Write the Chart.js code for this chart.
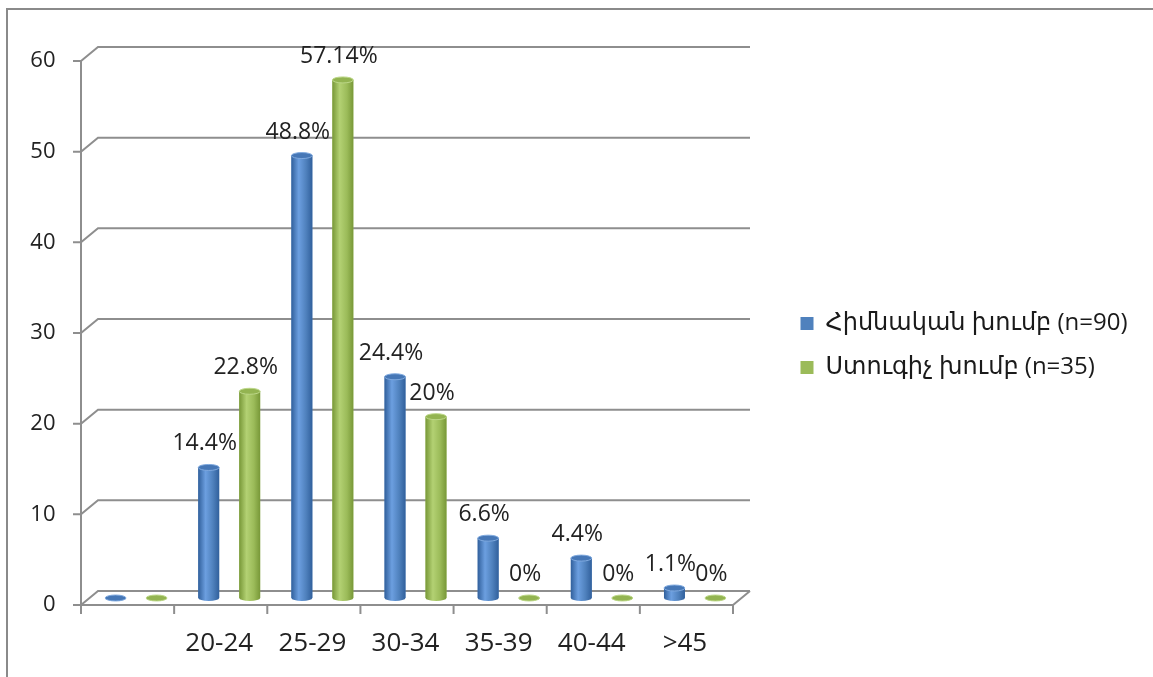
<!DOCTYPE html>
<html>
<head>
<meta charset="utf-8">
<script src="https://cdn.jsdelivr.net/npm/chart.js@4.4.1/dist/chart.umd.min.js"></script>
<style>
  html, body { margin: 0; padding: 0; background: #fff; overflow: hidden; }
  #wrap { position: relative; width: 1153px; height: 677px; }
  #frame { position: absolute; left: 6px; top: 8px; width: 1300px; height: 800px;
           border-top: 2px solid #8a8a8a; border-left: 2px solid #8a8a8a; }
  #chart { position: absolute; left: 0; top: 0; }
</style>
</head>
<body>
<div id="wrap"><div id="frame"></div><canvas id="chart" width="1153" height="677"></canvas></div>
<script>
var ageGroups = ['', '20-24', '25-29', '30-34', '35-39', '40-44', '>45'];
var mainGroup = [0, 14.4, 48.8, 24.4, 6.6, 4.4, 1.1];
var controlGroup = [0, 22.8, 57.14, 20, 0, 0, 0];
var seriesNames = ['Հիմնական խումբ (n=90)', 'Ստուգիչ խումբ (n=35)'];
var yTicks = [0, 10, 20, 30, 40, 50, 60];

var FONT = '"Open Sans", "DejaVu Sans", sans-serif';
var DEPTH_X = 8.5;   // half depth of the floor, horizontal
var DEPTH_Y = 7;     // half depth of the floor, vertical
var LINE = '#8e8e8e';
var LEGEND_W = 411.5;

var palettes = [
  { base: '#4f81bd', dark: '#31609c', light: '#6c9fe0', cap: '#4677b6', rim: '#7fa9de' },
  { base: '#9bbb59', dark: '#789838', light: '#b3d173', cap: '#93b451', rim: '#bcd788' }
];

function path(ctx, pts) {
  ctx.beginPath();
  ctx.moveTo(pts[0][0], pts[0][1]);
  for (var i = 1; i < pts.length; i++) ctx.lineTo(pts[i][0], pts[i][1]);
  ctx.stroke();
}

// back wall, floor and front axes of the pseudo-3d box
var wall3d = {
  id: 'wall3d',
  beforeDatasetsDraw: function (chart) {
    var ctx = chart.ctx, area = chart.chartArea, ys = chart.scales.y, xs = chart.scales.x;
    var lf = area.left - DEPTH_X, rf = area.right - DEPTH_X;
    var lb = area.left + DEPTH_X, rb = area.right + DEPTH_X;
    ctx.save();
    ctx.strokeStyle = LINE;
    ctx.lineWidth = 2;
    ys.ticks.forEach(function (t) {
      var py = ys.getPixelForValue(t.value);
      var yf = py + DEPTH_Y, yb = py - DEPTH_Y;
      path(ctx, [[lf - 8, yf], [lf, yf], [lb, yb], [rb, yb]]);
      if (t.value === 0) path(ctx, [[lf, yf], [rf, yf], [rb, yb]]);
    });
    var top = ys.getPixelForValue(ys.max) + DEPTH_Y;
    var bottom = ys.getPixelForValue(0) + DEPTH_Y;
    path(ctx, [[lf, top], [lf, bottom + 9]]);
    var half = (xs.getPixelForValue(1) - xs.getPixelForValue(0)) / 2;
    for (var i = 0; i < ageGroups.length; i++) {
      var bx = xs.getPixelForValue(i) + half - DEPTH_X;
      path(ctx, [[bx, bottom], [bx, bottom + 9]]);
    }
    ctx.restore();
  }
};

// cylinders over the flat bars, then the value labels
var cylinders = {
  id: 'cylinders',
  afterDatasetsDraw: function (chart) {
    var ctx = chart.ctx;
    ctx.save();
    chart.data.datasets.forEach(function (ds, di) {
      var pal = palettes[di];
      chart.getDatasetMeta(di).data.forEach(function (bar) {
        var p = bar.getProps(['x', 'y', 'base', 'width'], true);
        var rx = p.width / 2, ry = 3, x0 = p.x - rx, x1 = p.x + rx;
        var g = ctx.createLinearGradient(x0, 0, x1, 0);
        g.addColorStop(0, pal.dark);
        g.addColorStop(0.35, pal.light);
        g.addColorStop(0.7, pal.base);
        g.addColorStop(1, pal.dark);
        ctx.fillStyle = g;
        ctx.beginPath();
        ctx.moveTo(x0, p.y);
        ctx.lineTo(x0, p.base);
        ctx.ellipse(p.x, p.base, rx, ry, 0, Math.PI, 0, true);
        ctx.lineTo(x1, p.y);
        ctx.closePath();
        ctx.fill();
        ctx.beginPath();
        ctx.ellipse(p.x, p.y, rx, ry, 0, 0, Math.PI * 2);
        ctx.fillStyle = pal.cap;
        ctx.fill();
        ctx.strokeStyle = pal.rim;
        ctx.lineWidth = 1;
        ctx.stroke();
      });
    });

    ctx.fillStyle = '#222';
    ctx.font = '23px ' + FONT;
    ctx.textAlign = 'center';
    ctx.textBaseline = 'alphabetic';
    chart.data.datasets.forEach(function (ds, di) {
      chart.getDatasetMeta(di).data.forEach(function (bar, i) {
        if (!ageGroups[i]) return;
        var p = bar.getProps(['x', 'y'], true);
        ctx.fillText(ds.data[i] + '%', p.x - 4, p.y - 17);
      });
    });
    ctx.restore();
  }
};

// fixed legend column, items pushed away from the plot
var legendPlace = {
  id: 'legendPlace',
  beforeInit: function (chart) {
    var legend = chart.legend;
    if (!legend) return;
    var fit = legend.fit;
    legend.fit = function () {
      fit.call(this);
      this.width = LEGEND_W;
    };
  },
  afterLayout: function (chart) {
    var legend = chart.legend;
    legend.left += 39;
    legend.right += 39;
    legend.top -= 20;
    legend.bottom -= 20;
  }
};

new Chart(document.getElementById('chart'), {
  type: 'bar',
  data: {
    labels: ageGroups,
    datasets: [
      { label: seriesNames[0], data: mainGroup, backgroundColor: palettes[0].base, borderWidth: 0 },
      { label: seriesNames[1], data: controlGroup, backgroundColor: palettes[1].base, borderWidth: 0 }
    ]
  },
  options: {
    responsive: false,
    animation: false,
    devicePixelRatio: 1,
    layout: { padding: { top: 54, left: 0, right: 0, bottom: 0 } },
    datasets: { bar: { categoryPercentage: 0.88, barPercentage: 0.51 } },
    scales: {
      x: {
        grid: { display: false },
        border: { display: false },
        ticks: { color: '#222', font: { family: FONT, size: 26 }, padding: 22, labelOffset: -10, maxRotation: 0, autoSkip: false },
        afterFit: function (axis) { axis.height = 79; }
      },
      y: {
        min: 0,
        max: 60,
        grid: { display: false },
        border: { display: false },
        ticks: { color: '#222', font: { family: FONT, size: 22 }, padding: 26, labelOffset: 7 },
        afterBuildTicks: function (axis) {
          axis.ticks = yTicks.map(function (v) { return { value: v }; });
        },
        afterFit: function (axis) { axis.width = 89.5; }
      }
    },
    plugins: {
      legend: {
        position: 'right',
        labels: { boxWidth: 13, boxHeight: 13, padding: 20, color: '#1a1a1a', font: { family: FONT, size: 24 } }
      },
      tooltip: { enabled: false }
    }
  },
  plugins: [wall3d, cylinders, legendPlace]
});
</script>
</body>
</html>
